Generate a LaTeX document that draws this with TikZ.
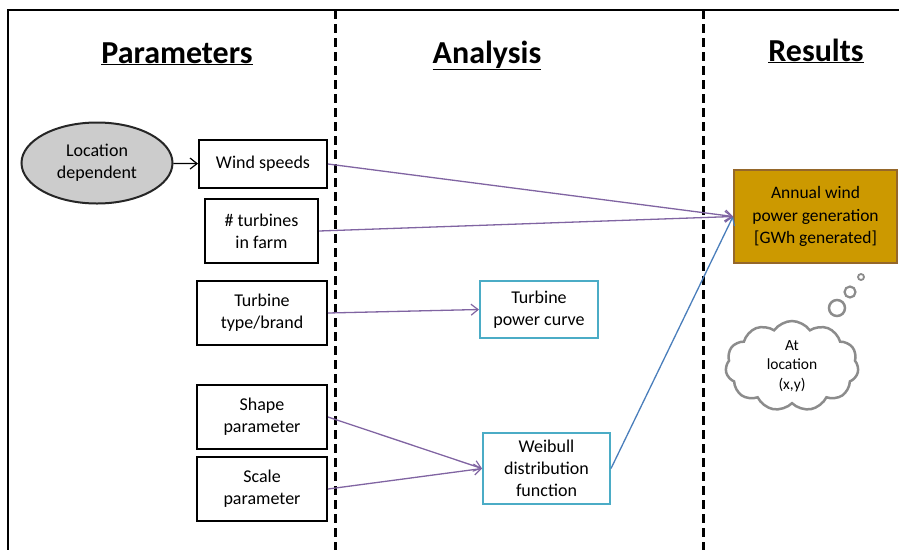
\documentclass[tikz,border=0pt]{standalone}
\usepackage{fontspec}
\setmainfont{Carlito}
\usetikzlibrary{arrows.meta,shapes.geometric,shapes.symbols}
\definecolor{purp}{HTML}{8064A2}
\definecolor{bluec}{HTML}{4A7EBB}
\definecolor{cyanb}{HTML}{4BACC6}
\definecolor{gold}{HTML}{CC9900}
\definecolor{goldb}{HTML}{95672A}
\definecolor{cloudg}{HTML}{8C8C8C}
\tikzset{
  txt/.style={font=\fontsize{18}{22}\selectfont, align=center, inner sep=0pt},
  parbox/.style={txt, draw=black, line width=2pt, rectangle},
  anbox/.style={txt, draw=cyanb, line width=2pt, rectangle},
  head/.style={font=\bfseries\fontsize{32}{38}\selectfont, anchor=base, inner sep=0pt},
  conn/.style={line width=1.3pt, -{Straight Barb[length=7pt,width=11pt,line width=1.2pt]}},
  divider/.style={line width=3pt, dash pattern=on 9pt off 5pt},
}
\begin{document}
\begin{tikzpicture}[x=1pt,y=-1pt]
\useasboundingbox (0,0) rectangle (899,550);
% frame
\coordinate (ftr) at (899,10);
\coordinate (ftl) at (8,10);
\coordinate (fbl) at (8,550);
\draw[line width=2.5pt] (ftr) -- (ftl) -- (fbl);
\coordinate (d1t) at (335,10);
\coordinate (d1b) at (335,550);
\coordinate (d2t) at (703,10);
\coordinate (d2b) at (703,550);
\draw[divider] (d1t) -- (d1b);
\draw[divider] (d2t) -- (d2b);
% headings
\node[head] (hp) at (177,63) {\underline{Parameters}};
\node[head] (ha) at (487,63) {\underline{Analysis}};
\node[head] (hr) at (816,61) {\underline{Results}};
% nodes
\node[ellipse, draw=black!85, line width=2pt, fill=black!20, txt, minimum width=151pt, minimum height=81pt] (loc) at (97,163) {Location\\dependent};
\node[parbox, minimum width=128pt, minimum height=48pt] (ws) at (263,164) {Wind speeds};
\node[parbox, minimum width=113pt, minimum height=64pt] (nt) at (261.5,231) {\# turbines\\in farm};
\node[parbox, minimum width=130pt, minimum height=64pt] (tt) at (262,313) {Turbine\\type/brand};
\node[parbox, minimum width=130pt, minimum height=64pt] (sp) at (262,417) {Shape\\parameter};
\node[parbox, minimum width=130pt, minimum height=64pt] (sc) at (262,489) {Scale\\parameter};
\node[anbox, minimum width=118pt, minimum height=57pt] (tpc) at (539,309.5) {Turbine\\power curve};
\node[anbox, minimum width=127pt, minimum height=71pt] (wb) at (546.5,468.5) {Weibull\\distribution\\function};
\node[txt, draw=goldb, fill=gold, line width=2pt, minimum width=163pt, minimum height=93pt, font=\fontsize{17.5}{22.5}\selectfont] (an) at (815.5,216.5) {Annual wind\\power generation\\{[}GWh generated{]}};
% cloud
\node[cloud, draw=cloudg, line width=2.5pt, cloud puffs=11, cloud puff arc=110, minimum width=133pt, minimum height=90pt, inner sep=0pt, align=center, font=\fontsize{15.5}{19.5}\selectfont] (cl) at (792,366) {At\\location\\(x,y)};
\node[circle, draw=cloudg, line width=2.5pt, minimum size=16pt, inner sep=0pt] (c1) at (837,308) {};
\node[circle, draw=cloudg, line width=2.2pt, minimum size=11pt, inner sep=0pt] (c2) at (850,292) {};
\node[circle, draw=cloudg, line width=1.8pt, minimum size=6pt, inner sep=0pt] (c3) at (861,277) {};
% connectors
\draw[conn, black] (loc) -- (ws);
\draw[conn, bluec] (wb.east) -- (an.west);
\draw[conn, purp] (ws.east) -- (an.west);
\draw[conn, purp] (nt.east) -- (an.west);
\draw[conn, purp] (tt.east) -- (tpc.west);
\draw[conn, purp] (sp.east) -- (wb.west);
\draw[conn, purp] (sc.east) -- (wb.west);
\end{tikzpicture}
\end{document}
